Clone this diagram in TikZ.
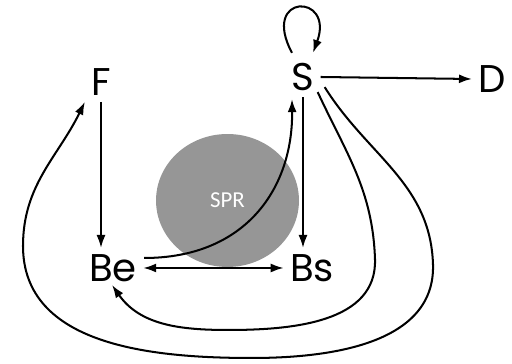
\documentclass[tikz,border=0pt]{standalone}
\usepackage{fontspec}
\setmainfont{Poppins}
\newfontfamily\sprfont{Carlito}
\usetikzlibrary{arrows.meta,calc,shapes.geometric}
\definecolor{sprgray}{RGB}{150,150,150}

\begin{document}
\begin{tikzpicture}[x=0.02cm, y=0.02cm, >={Latex[length=2.6mm,width=1.8mm]},
    state/.style={inner sep=0.12cm, font=\fontsize{22}{26}\selectfont},
    link/.style={->, line width=1.15pt}]
  \useasboundingbox (0,0) rectangle (512,364);

  % ===== region and states =====
  \node[ellipse, fill=sprgray, minimum width=2.86cm, minimum height=2.66cm,
        text=white, font=\sprfont\fontsize{13}{15}\selectfont] (spr) at (227.5,163.5) {SPR};
  \node[state] (F)  at (101,282) {F};
  \node[state] (S)  at (303,287) {S};
  \node[state] (D)  at (492,285) {D};
  \node[state] (Be) at (113,96) {Be};
  \node[state] (Bs) at (312,96) {Bs};

  % ===== straight links =====
  \draw[link] (F.south) -- (F.south |- Be.north);
  \draw[link] (S.south) -- (S.south |- Bs.north);
  \draw[link] (S.east) -- (D.west);
  \draw[link,<->] (Be.east) -- (Bs.west);

  % ===== self loop on S =====
  \draw[link] ($(S.north)+(-11,4)$) .. controls +(-32,60) and +(22,60) .. ($(S.north)+(10,4)$);

  % ===== curved links =====
  \draw[link] ($(Be.east)+(1,10)$) .. controls (245,106) and (293,175) .. ($(S.south)+(-11,-2)$);
  \draw[link] ($(S.south east)+(-3,5)$) to[out=-65,in=92] (375,105)
    to[out=-88,in=0] (228,34) to[out=180,in=-55] ($(Be.south)+(-1,3)$);
  \draw[link] ($(S.south east)+(4,10)$) to[out=-58,in=92] (433,100)
    to[out=-88,in=0] (252,6) to[out=180,in=-90] (23,118) to[out=90,in=-116] (F.south west);
\end{tikzpicture}
\end{document}
